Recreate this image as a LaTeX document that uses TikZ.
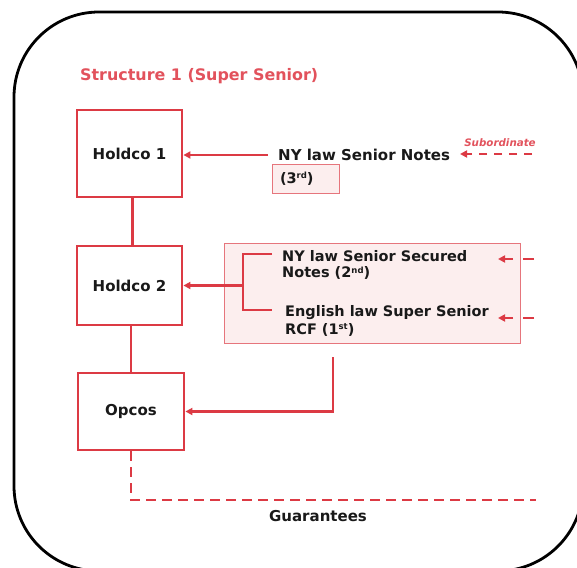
\documentclass[tikz,border=0pt]{standalone}
\usepackage{fontspec}
\setmainfont{DejaVu Sans}
\usetikzlibrary{arrows.meta}
\definecolor{lred}{RGB}{220,58,68}
\definecolor{tred}{RGB}{226,82,92}
\definecolor{lpink}{RGB}{252,238,238}
\definecolor{ink}{RGB}{25,25,25}
\newcommand{\ordsup}[1]{\raisebox{0.55ex}{\fontsize{8.5}{9}\selectfont #1}}
\tikzset{
  entity/.style={draw=lred, line width=2.8pt, fill=white, text=ink,
    font=\bfseries\fontsize{15}{17}\selectfont, inner sep=0pt},
  label/.style={text=ink, font=\bfseries\fontsize{15}{17}\selectfont, align=left, inner sep=0pt},
  link/.style={draw=lred, line width=2.6pt},
  tip/.style={-{Triangle[length=7pt,width=7pt]}},
  dashlink/.style={draw=lred, line width=2.6pt, dash pattern=on 10pt off 6pt},
  panel/.style={draw=lred!70, line width=1pt, fill=lpink, inner sep=0pt}
}
\begin{document}
\begin{tikzpicture}[x=1pt,y=-1pt]
\useasboundingbox (0,0) rectangle (577,567);
\begin{scope}
\clip (0,0) rectangle (577,567);
% outer rounded frame
\draw[line width=2.8pt, rounded corners=85pt] (14,12) rectangle (583,571);
\end{scope}

% title
\node[anchor=west, text=tred, font=\bfseries\fontsize{15.9}{18}\selectfont, inner sep=0pt] (title) at (80,76) {Structure 1 (Super Senior)};

% entities
\node[entity, minimum width=105pt, minimum height=87pt] (h1) at (129.5,153.5) {Holdco 1};
\node[entity, minimum width=105pt, minimum height=79pt] (h2) at (129.5,285.5) {Holdco 2};
\node[entity, minimum width=106pt, minimum height=77pt] (op) at (131,411.5) {Opcos};

\draw[link] ([xshift=3pt]h1.south) -- ([xshift=3pt]h1.south |- h2.north);
\draw[link] ([xshift=1.5pt]h2.south) -- ([xshift=1.5pt]h2.south |- op.north);

% 3rd ranking notes
\node[label, anchor=west, inner xsep=10pt] (notes) at (268,155) {NY law Senior Notes};
\node[panel, minimum width=67pt, minimum height=29pt, text width=51pt, inner xsep=8pt, align=left,
  text=ink, font=\bfseries\fontsize{14.5}{16}\selectfont] (third) at (305.5,178.5) {(3\ordsup{rd})};
\draw[link, tip] (notes.west) -- (notes.west -| h1.east);

% subordination marker
\node[text=tred, font=\bfseries\itshape\fontsize{10.3}{11}\selectfont, inner sep=0pt] (sub) at (500,143) {Subordinate};
\coordinate (subS) at (532,154);
\coordinate (subE) at (460,154);
\draw[dashlink, dash pattern=on 8pt off 7pt, tip] (subS) -- (subE);

% secured and super senior panel
\node[panel, minimum width=296pt, minimum height=100pt] (secbox) at (372,293) {};
\node[label, anchor=west, font=\bfseries\fontsize{14.5}{16.5}\selectfont] (sec) at (282,265) {NY law Senior Secured\\Notes (2\ordsup{nd})};
\node[label, anchor=west, font=\bfseries\fontsize{14.5}{17.5}\selectfont] (rcf) at (285,321) {English law Super Senior\\RCF (1\ordsup{st})};

\coordinate (bT) at (272,254);
\coordinate (bB) at (272,310);
\coordinate (bM) at (243,285.5);
\draw[link] (bT) -- (243,254) -- (243,310) -- (bB);
\draw[link, tip] (bM) -- (bM -| h2.east);

% incoming ranking arrows
\coordinate (a1S) at (534,259);
\coordinate (a1E) at (498,259);
\coordinate (a2S) at (534,318);
\coordinate (a2E) at (498,318);
\draw[dashlink, line width=2.2pt, dash pattern=on 11pt off 10pt, tip] (a1S) -- (a1E);
\draw[dashlink, line width=2.2pt, dash pattern=on 11pt off 10pt, tip] (a2S) -- (a2E);

% lending into opcos
\coordinate (down) at (333,357);
\draw[link, tip] (down) |- (op.east);

% guarantees
\coordinate (gEnd) at (536,500);
\draw[dashlink] (op.south) |- (gEnd);
\node[label] (guar) at (318,516) {Guarantees};
\end{tikzpicture}
\end{document}
